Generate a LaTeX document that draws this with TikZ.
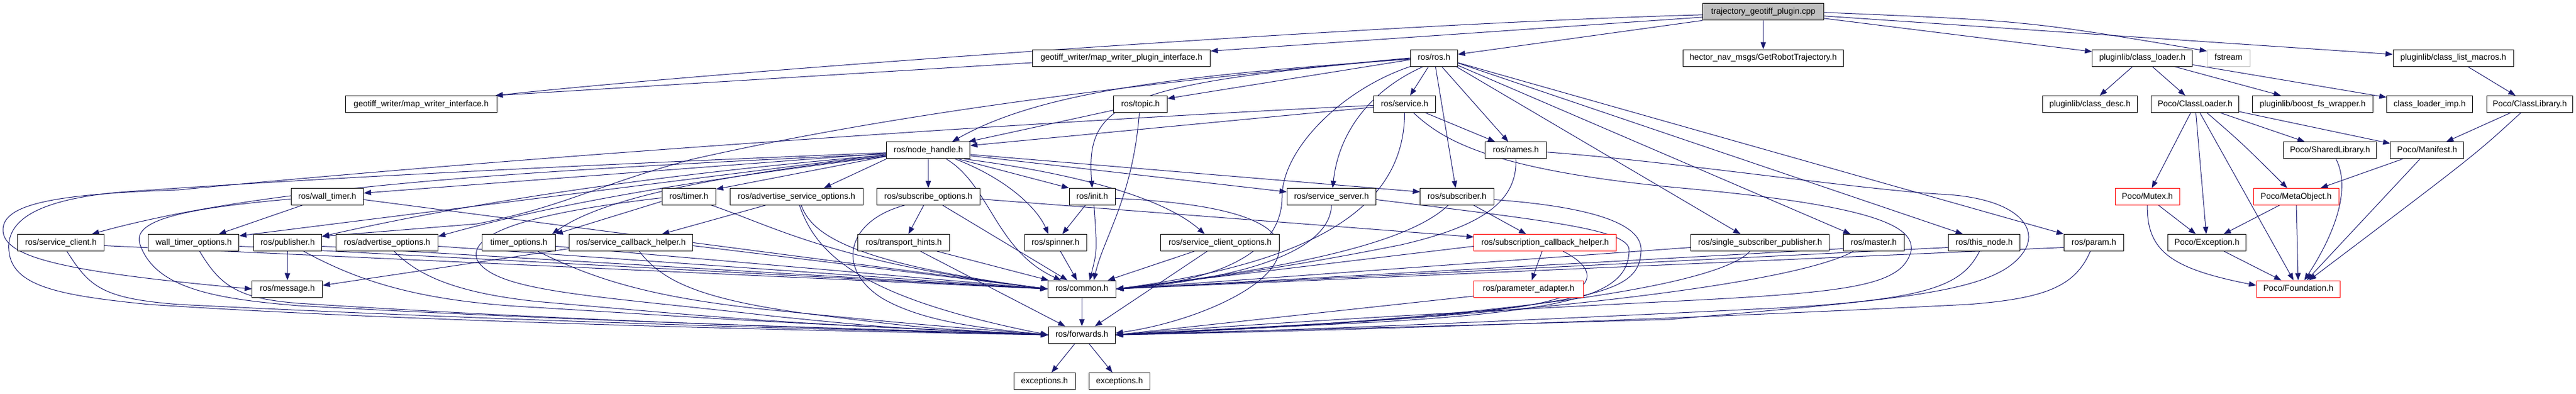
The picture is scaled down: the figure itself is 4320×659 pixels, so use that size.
\documentclass[tikz,border=0pt]{standalone}
\usepackage{fontspec}
\setmainfont{Liberation Sans}
\usetikzlibrary{arrows.meta}
\definecolor{mb}{RGB}{25,25,112}
\definecolor{gr}{RGB}{191,191,191}
\pgfdeclarelayer{bg}
\pgfsetlayers{bg,main}
\begin{document}
\begin{tikzpicture}[x=1pt,y=1pt,
  box/.style={draw=black,line width=1pt,fill=white,minimum height=28pt,inner xsep=4pt,inner ysep=0pt,
    font=\fontsize{14}{16}\selectfont,text height=10.5pt,text depth=3pt},
  redbox/.style={box,draw=red},
  e/.style={draw=mb,line width=1pt,-{Triangle[length=12pt,width=9pt]}}]
\useasboundingbox (0,0) rectangle (4320,-659);
\begin{pgfonlayer}{bg}
\fill[white] (0,0) rectangle (4320,-659);
\end{pgfonlayer}
% row 0
\node[box,fill=gr,minimum width=202.9pt] (T) at (2957.05,-19.8) {trajectory\_geotiff\_plugin.cpp};
% row 1
\node[box,minimum width=298.4pt] (PI) at (1880.7,-97) {geotiff\_writer/map\_writer\_plugin\_interface.h};
\node[box,minimum width=269pt] (GRT) at (2957,-97) {hector\_nav\_msgs/GetRobotTrajectory.h};
\node[box,minimum width=79pt] (ROS) at (2404.9,-97) {ros/ros.h};
\node[box,minimum width=167.9pt] (PCL) at (3592.85,-97) {pluginlib/class\_loader.h};
\node[box,draw=gr,minimum width=71.6pt] (FST) at (3737.2,-97) {fstream};
\node[box,minimum width=202.5pt] (CLM) at (4114.25,-97) {pluginlib/class\_list\_macros.h};
% row 2
\node[box,minimum width=254.6pt] (MWI) at (706.3,-174.5) {geotiff\_writer/map\_writer\_interface.h};
\node[box,minimum width=89.5pt] (TOPIC) at (1912.65,-174.5) {ros/topic.h};
\node[box,minimum width=103.3pt] (SERVICE) at (2355.55,-174.5) {ros/service.h};
\node[box,minimum width=159.4pt] (CDESC) at (3505,-174.5) {pluginlib/class\_desc.h};
\node[box,minimum width=147pt] (PCLd) at (3681.2,-174.5) {Poco/ClassLoader.h};
\node[box,minimum width=201.3pt] (BFS) at (3878.35,-174.5) {pluginlib/boost\_fs\_wrapper.h};
\node[box,minimum width=143.8pt] (CLI) at (4074.5,-174.5) {class\_loader\_imp.h};
\node[box,minimum width=143.8pt] (PCLib) at (4242.4,-174.5) {Poco/ClassLibrary.h};
% row 3
\node[box,minimum width=140pt] (NH) at (1556.8,-251.8) {ros/node\_handle.h};
\node[box,minimum width=102.9pt] (NAMES) at (2542.15,-251.8) {ros/names.h};
\node[box,minimum width=155.9pt] (SHL) at (3907.45,-251.8) {Poco/SharedLibrary.h};
\node[box,minimum width=122.9pt] (MAN) at (4070.35,-251.8) {Poco/Manifest.h};
% row 4
\node[box,minimum width=121.7pt] (WT) at (548.85,-329.4) {ros/wall\_timer.h};
\node[box,minimum width=90.5pt] (TIMER) at (1155.25,-329.4) {ros/timer.h};
\node[box,minimum width=223pt] (ASO) at (1335.8,-329.4) {ros/advertise\_service\_options.h};
\node[box,minimum width=173.1pt] (SO) at (1556.75,-329.4) {ros/subscribe\_options.h};
\node[box,minimum width=77.2pt] (INIT) at (1831.6,-329.4) {ros/init.h};
\node[box,minimum width=149.2pt] (SS) at (2232.9,-329.4) {ros/service\_server.h};
\node[box,minimum width=123.1pt] (SUB) at (2443.45,-329.4) {ros/subscriber.h};
\node[redbox,minimum width=108.3pt] (MUTEX) at (3601.15,-329.4) {Poco/Mutex.h};
\node[redbox,minimum width=142.7pt] (META) at (3850.65,-329.4) {Poco/MetaObject.h};
% row 5
\node[box,minimum width=144.7pt] (SC) at (102.15,-406.5) {ros/service\_client.h};
\node[box,minimum width=151.9pt] (WTO) at (324.85,-406.5) {wall\_timer\_options.h};
\node[box,minimum width=114.3pt] (PUB) at (482.35,-406.5) {ros/publisher.h};
\node[box,minimum width=170.6pt] (AO) at (649.1,-406.5) {ros/advertise\_options.h};
\node[box,minimum width=122.6pt] (TO) at (870.1,-406.5) {timer\_options.h};
\node[box,minimum width=206.6pt] (SCH) at (1058.1,-406.5) {ros/service\_callback\_helper.h};
\node[box,minimum width=154.2pt] (TH) at (1515.7,-406.5) {ros/transport\_hints.h};
\node[box,minimum width=103.8pt] (SPIN) at (1770.1,-406.5) {ros/spinner.h};
\node[box,minimum width=199.5pt] (SCO) at (2046.15,-406.5) {ros/service\_client\_options.h};
\node[redbox,minimum width=238.7pt] (SUBCB) at (2591.25,-406.5) {ros/subscription\_callback\_helper.h};
\node[box,minimum width=231.9pt] (SSP) at (2951.75,-406.5) {ros/single\_subscriber\_publisher.h};
\node[box,minimum width=102.5pt] (MASTER) at (3142.25,-406.5) {ros/master.h};
\node[box,minimum width=120.3pt] (THIS) at (3327.55,-406.5) {ros/this\_node.h};
\node[box,minimum width=100.5pt] (PARAM) at (3511.45,-406.5) {ros/param.h};
\node[box,minimum width=131.2pt] (EXC) at (3701.1,-406.5) {Poco/Exception.h};
% row 6
\node[box,minimum width=118pt] (MSG) at (481.9,-484) {ros/message.h};
\node[box,minimum width=114.3pt] (COMMON) at (1814.35,-484) {ros/common.h};
\node[redbox,minimum width=183.2pt] (PA) at (2563.5,-484) {ros/parameter\_adapter.h};
\node[redbox,minimum width=140.7pt] (FOUND) at (3854.35,-484) {Poco/Foundation.h};
% row 7, 8
\node[box,minimum width=112.5pt] (FWD) at (1814.35,-561) {ros/forwards.h};
\node[box,minimum width=102.8pt] (EX1) at (1751.7,-638.5) {exceptions.h};
\node[box,minimum width=102.4pt] (EX2) at (1877.3,-638.5) {exceptions.h};

\begin{pgfonlayer}{bg}
% from the cpp file
\draw[e] ([yshift=-5pt]T.west) .. controls (2300,-40) and (1200,-120) .. ([xshift=-3pt]MWI.north east);
\draw[e] ([yshift=-9pt]T.west) -- ([yshift=-3pt]PI.north east);
\draw[e] (T.south west) -- ([yshift=6pt]ROS.east);
\draw[e] (T) -- (GRT);
\draw[e] ([yshift=-11pt]T.east) -- ([yshift=-4pt]PCL.north west);
\draw[e] ([yshift=-1pt]T.east) .. controls (3400,-35) .. ([yshift=-3pt]FST.north west);
\draw[e] ([yshift=-7pt]T.east) -- ([yshift=6pt]CLM.west);
\draw[e] ([yshift=-8pt]PI.west) -- ([xshift=-3pt]MWI.north east);
% Poco part
\draw[e] (PCL) -- (CDESC);
\draw[e] (PCL) -- (PCLd);
\draw[e] (PCL) -- (BFS);
\draw[e] ([yshift=3pt]PCL.south east) -- ([yshift=-3pt]CLI.north west);
\draw[e] (CLM) -- (PCLib);
\draw[e] (PCLd) -- (MUTEX);
\draw[e] (PCLd) -- (EXC);
\draw[e] (PCLd) -- (FOUND);
\draw[e] ([xshift=20pt]PCLd.south) .. controls (3760,-240) .. ([xshift=-15pt]META.north);
\draw[e] (PCLd) -- (SHL);
\draw[e] ([yshift=2pt]PCLd.south east) -- ([yshift=-3pt]MAN.north west);
\draw[e] (PCLib) -- (MAN);
\draw[e] ([xshift=-15pt]PCLib.south) .. controls (4150,-260) .. ([xshift=18pt]FOUND.north);
\draw[e] ([xshift=10pt]SHL.south) .. controls (3945,-320) and (3910,-400) .. ([xshift=10pt]FOUND.north);
\draw[e] (MAN) -- (META);
\draw[e] ([xshift=-12pt]MAN.south) -- ([xshift=14pt]FOUND.north);
\draw[e] (MUTEX) -- (EXC);
\draw[e] (MUTEX.south) .. controls (3600,-420) and (3640,-450) .. ([yshift=6pt]FOUND.west);
\draw[e] (META) -- (EXC);
\draw[e] (META) -- (FOUND);
\draw[e] (EXC) -- (FOUND);
% ros.h
\draw[e] (ROS) -- (SERVICE);
\draw[e] (ROS) -- (NAMES);
\draw[e] (ROS) -- (SUB);
\draw[e] ([xshift=-18pt]ROS.south) .. controls (2300,-150) and (2245,-220) .. ([xshift=2pt]SS.north);
\draw[e] (ROS.south west) .. controls (2250,-150) and (2150,-250) .. (2150,-330) .. controls (2150,-420) and (2050,-470) .. (COMMON.east);
\draw[e] (ROS.west) .. controls (1900,-140) and (1500,-190) .. (1160,-267) .. controls (1000,-310) and (950,-345) .. (800,-375) -- ([yshift=-4pt]PUB.north east);
\draw[e] ([yshift=-3pt]ROS.west) -- ([yshift=-5pt]TOPIC.north east);
\draw[e] ([yshift=-2pt]ROS.west) .. controls (2000,-125) and (1750,-150) .. ([xshift=40pt]NH.north);
\draw[e] ([yshift=-1pt]ROS.west) .. controls (1880,-140) and (1820,-170) .. (INIT.north);
\draw[e] ([xshift=-3pt]ROS.south east) -- ([xshift=-33pt]SSP.north);
\draw[e] ([yshift=2pt]ROS.south east) -- ([xshift=-39pt]MASTER.north);
\draw[e] ([yshift=6pt]ROS.south east) -- ([xshift=-36pt]THIS.north);
\draw[e] ([yshift=-8pt]ROS.east) -- (PARAM.north west);
% service.h
\draw[e] ([yshift=-5pt]SERVICE.west) -- ([yshift=8pt]NH.east);
\draw[e] ([yshift=-2pt]SERVICE.west) .. controls (1800,-200) and (900,-260) .. (300,-318) .. controls (100,-325) and (5,-340) .. (5,-385) .. controls (5,-430) and (100,-455) .. (MSG.west);
\draw[e] (SERVICE) -- (NAMES);
\draw[e] (SERVICE.south) .. controls (2355,-350) and (2200,-440) .. (COMMON.east);
\draw[e] ([xshift=15pt]SERVICE.south) .. controls (2420,-235) and (2500,-285) .. (2820,-315) .. controls (3150,-345) and (3210,-380) .. (3205,-420) .. controls (3190,-480) and (3100,-490) .. (2800,-505) .. controls (2300,-530) and (2000,-550) .. (FWD.east);
% topic.h
\draw[e] ([yshift=-10pt]TOPIC.west) -- ([xshift=-3pt]NH.north east);
\draw[e] ([xshift=-2pt]TOPIC.south) .. controls (1900,-330) and (1850,-400) .. ([xshift=20pt]COMMON.north);
% names.h
\draw[e] (NAMES.south) .. controls (2545,-340) and (2480,-380) .. (2350,-410) .. controls (2150,-450) and (2000,-470) .. (COMMON.east);
\draw[e] ([yshift=-3pt]NAMES.east) .. controls (2800,-270) and (3100,-315) .. (3250,-325) .. controls (3380,-330) and (3420,-380) .. (3395,-420) .. controls (3350,-490) and (3200,-500) .. (2800,-535) .. controls (2300,-550) and (2000,-556) .. (FWD.east);
% node_handle.h
\draw[e] ([yshift=-4pt]NH.west) .. controls (1000,-275) and (500,-300) .. (200,-322) .. controls (60,-335) and (10,-370) .. (15,-420) .. controls (20,-480) and (100,-495) .. (250,-510) .. controls (700,-540) and (1400,-555) .. (FWD.west);
\draw[e] ([yshift=-6pt]NH.west) .. controls (900,-285) and (450,-310) .. ([xshift=52pt]SC.north);
\draw[e] ([yshift=-5pt]NH.west) -- ([yshift=6pt]WT.east);
\draw[e] ([yshift=-7pt]NH.west) -- ([yshift=-3pt]WTO.north east);
\draw[e] ([yshift=-8pt]NH.west) .. controls (1000,-300) and (700,-360) .. ([yshift=-4pt]PUB.north east);
\draw[e] ([yshift=-10pt]NH.west) .. controls (1100,-310) and (900,-350) .. ([yshift=-4pt]AO.north east);
\draw[e] ([yshift=-9pt]NH.west) .. controls (1150,-300) and (1000,-340) .. ([xshift=-6pt]TO.north east);
\draw[e] ([yshift=-10pt]NH.west) -- ([yshift=-2pt]TIMER.north east);
\draw[e] (NH.south west) -- ([xshift=46pt]ASO.north);
\draw[e] (NH) -- (SO);
\draw[e] ([xshift=50pt]NH.south) -- (INIT.north west);
\draw[e] ([xshift=45pt]NH.south) .. controls (1690,-300) and (1740,-350) .. ([xshift=-12pt]SPIN.north);
\draw[e] ([xshift=30pt]NH.south) .. controls (1660,-310) and (1670,-420) .. ([xshift=-35pt]COMMON.north);
\draw[e] ([xshift=60pt]NH.south) .. controls (1800,-290) and (1950,-330) .. ([xshift=-26pt]SCO.north);
\draw[e] ([yshift=-7pt]NH.east) -- ([yshift=8pt]SUB.west);
\draw[e] ([yshift=-9pt]NH.east) -- ([yshift=8pt]SS.west);
% init, spinner, subscribe options, transport hints
\draw[e] (INIT) -- (SPIN);
\draw[e] ([xshift=3pt]INIT.south) .. controls (1840,-420) .. ([xshift=13pt]COMMON.north);
\draw[e] ([yshift=-3pt]INIT.east) .. controls (2050,-340) and (2150,-370) .. (2145,-420) .. controls (2140,-480) and (2000,-540) .. ([yshift=3pt]FWD.east);
\draw[e] (SPIN) -- (COMMON);
\draw[e] (SO) -- (TH);
\draw[e] (SO) -- (COMMON);
\draw[e] ([yshift=-4pt]SO.east) -- ([yshift=9.5pt]SUBCB.west);
\draw[e] ([xshift=-40pt]SO.south) .. controls (1420,-370) and (1400,-450) .. (1480,-500) .. controls (1550,-540) and (1650,-550) .. (FWD.west);
\draw[e] (TH) -- (COMMON);
\draw[e] (TH) -- (FWD);
\draw[e] (SCO) -- (COMMON);
\draw[e] (SCO) -- (FWD);
\draw[e] (COMMON) -- (FWD);
\draw[e] (FWD) -- (EX1);
\draw[e] (FWD) -- (EX2);
% service server, subscriber, callback helper
\draw[e] (SS.south) .. controls (2230,-430) and (2050,-470) .. (COMMON.east);
\draw[e] ([yshift=-5pt]SS.east) .. controls (2600,-370) and (2735,-385) .. (2732,-420) .. controls (2730,-490) and (2650,-520) .. (2300,-540) .. controls (2100,-550) and (1950,-557) .. (FWD.east);
\draw[e] ([xshift=-15pt]SUB.south) .. controls (2380,-390) and (2250,-440) .. (COMMON.east);
\draw[e] ([xshift=28pt]SUB.south) -- ([xshift=-32pt]SUBCB.north);
\draw[e] ([yshift=-5pt]SUB.east) .. controls (2650,-345) and (2755,-370) .. (2752,-420) .. controls (2750,-480) and (2700,-500) .. (2400,-530) .. controls (2200,-545) and (2000,-553) .. (FWD.east);
\draw[e] (SUBCB) -- (PA);
\draw[e] ([yshift=-6pt]SUBCB.west) -- (COMMON.east);
\draw[e] ([xshift=30pt]SUBCB.south) .. controls (2680,-450) and (2700,-500) .. (2500,-520) .. controls (2200,-545) .. (FWD.east);
\draw[e] ([yshift=-12pt]PA.west) -- (FWD.east);
% single subscriber publisher, master, this node, param
\draw[e] ([yshift=-8pt]SSP.west) -- (COMMON.east);
\draw[e] ([xshift=-17pt]SSP.south) .. controls (2870,-490) and (2400,-540) .. (FWD.east);
\draw[e] ([yshift=-10pt]MASTER.west) -- (COMMON.east);
\draw[e] ([xshift=-34pt]MASTER.south) .. controls (3000,-480) and (2500,-535) .. (FWD.east);
\draw[e] ([yshift=-8pt]THIS.west) -- (COMMON.east);
\draw[e] ([xshift=-8pt]THIS.south) .. controls (3290,-480) and (3230,-500) .. (3000,-515) .. controls (2500,-540) and (2100,-556) .. (FWD.east);
\draw[e] ([yshift=-8pt]PARAM.west) -- (COMMON.east);
\draw[e] ([xshift=-6pt]PARAM.south) .. controls (3480,-480) and (3430,-500) .. (3300,-510) .. controls (2700,-540) and (2200,-555) .. (FWD.east);
% left group
\draw[e] (WT) -- (WTO);
\draw[e] ([yshift=-5pt]WT.east) -- (COMMON.west);
\draw[e] ([yshift=-4pt]WT.west) .. controls (300,-350) and (220,-370) .. (235,-410) .. controls (260,-480) and (350,-500) .. (500,-512) .. controls (1000,-540) and (1500,-552) .. (FWD.west);
\draw[e] ([yshift=-5pt]SC.east) -- (COMMON.west);
\draw[e] ([xshift=10pt]SC.south) .. controls (150,-480) and (170,-500) .. (300,-510) .. controls (900,-540) and (1400,-552) .. (FWD.west);
\draw[e] ([yshift=-6pt]WTO.east) -- (COMMON.west);
\draw[e] ([xshift=10pt]WTO.south) .. controls (370,-480) and (400,-500) .. (500,-508) .. controls (1000,-540) and (1450,-552) .. (FWD.west);
\draw[e] (PUB) -- (MSG);
\draw[e] ([yshift=-6pt]PUB.east) -- (COMMON.west);
\draw[e] ([xshift=27pt]PUB.south) .. controls (600,-470) and (700,-505) .. (900,-515) .. controls (1300,-540) .. (FWD.west);
\draw[e] ([yshift=-6pt]AO.east) -- (COMMON.west);
\draw[e] ([xshift=12pt]AO.south) .. controls (700,-460) and (760,-490) .. (900,-505) .. controls (1300,-540) .. (FWD.west);
\draw[e] ([yshift=-6pt]TO.east) -- (COMMON.west);
\draw[e] ([xshift=32pt]TO.south) .. controls (1000,-470) and (1100,-500) .. (1300,-520) .. controls (1500,-540) .. (FWD.west);
\draw[e] ([yshift=-10pt]SCH.west) -- ([yshift=6pt]MSG.east);
\draw[e] ([yshift=-5pt]SCH.east) -- (COMMON.west);
\draw[e] ([xshift=14pt]SCH.south) .. controls (1110,-470) and (1170,-500) .. (1350,-525) .. controls (1550,-550) .. (FWD.west);
\draw[e] ([yshift=-8pt]TIMER.west) -- (TO.north east);
\draw[e] ([xshift=38pt]TIMER.south) .. controls (1300,-380) and (1400,-440) .. (COMMON.west);
\draw[e] ([yshift=-2pt]TIMER.west) .. controls (950,-350) and (780,-380) .. (800,-435) .. controls (830,-490) and (1000,-495) .. (1300,-530) .. controls (1500,-550) .. (FWD.west);
\draw[e] (ASO) -- (SCH);
\draw[e] ([xshift=8pt]ASO.south) .. controls (1360,-390) and (1420,-440) .. (COMMON.west);
\draw[e] ([xshift=5pt]ASO.south) .. controls (1370,-430) and (1450,-500) .. (FWD.west);
\end{pgfonlayer}
\end{tikzpicture}
\end{document}
